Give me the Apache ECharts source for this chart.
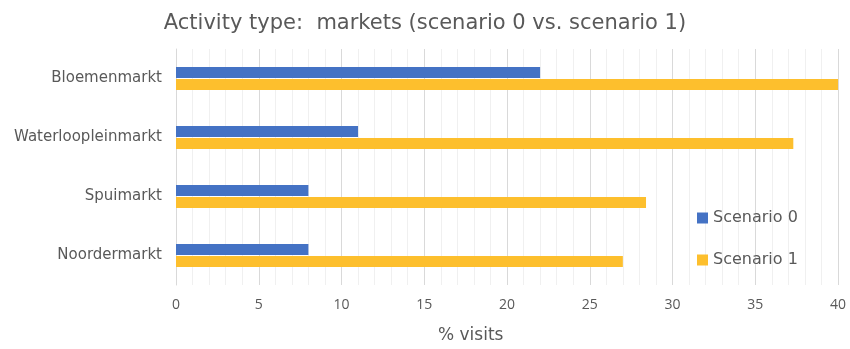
<!DOCTYPE html>
<html>
<head>
<meta charset="utf-8">
<script src="https://cdn.jsdelivr.net/npm/echarts@6/dist/echarts.min.js"></script>
<style>
  html, body { margin: 0; padding: 0; background: #fff; }
  #chart { width: 850px; height: 349px; }
</style>
</head>
<body>
<div id="chart"></div>
<script>
// Markets and their share of visits (%) under each scenario
const markets = ['Bloemenmarkt', 'Waterloopleinmarkt', 'Spuimarkt', 'Noordermarkt'];
const scenario0 = [22, 11, 8, 8];
const scenario1 = [40, 37.3, 28.4, 27];
const seriesNames = ['Scenario 0', 'Scenario 1'];

const FONT = '"Century Gothic", "DejaVu Sans", sans-serif';
const TEXT = '#595959';

const chart = echarts.init(document.getElementById('chart'));
chart.setOption({
  animation: false,
  title: {
    text: 'Activity type:  markets (scenario 0 vs. scenario 1)',
    left: 'center',
    top: 8,
    textStyle: { fontFamily: FONT, fontSize: 21, fontWeight: 'normal', color: TEXT }
  },
  legend: {
    orient: 'vertical',
    left: 692,
    top: 205,
    itemGap: 26,
    itemWidth: 11,
    itemHeight: 11,
    icon: 'rect',
    textStyle: { fontFamily: FONT, fontSize: 16, color: TEXT },
    data: seriesNames
  },
  // x-axis title under the chart body
  graphic: [{
    type: 'text',
    left: 438,
    top: 327,
    style: { text: '% visits', fontFamily: FONT, fontSize: 17, fill: TEXT }
  }],
  grid: { left: 176, right: 12, top: 49, bottom: 64 },
  xAxis: {
    type: 'value',
    min: 0,
    max: 40,
    interval: 5,
    axisLine: { show: false },
    axisTick: { show: false },
    axisLabel: { fontFamily: '"Liberation Sans Narrow", "Open Sans", sans-serif', fontSize: 14, color: TEXT, margin: 13 },
    splitLine: { show: true, lineStyle: { color: '#d9d9d9', width: 1 } },
    minorTick: { show: false, splitNumber: 5 },
    minorSplitLine: { show: true, lineStyle: { color: '#f0f0f0', width: 1 } }
  },
  yAxis: {
    type: 'category',
    inverse: true,
    data: markets,
    axisLine: { show: true, lineStyle: { color: '#d9d9d9' } },
    axisTick: { show: false },
    axisLabel: { fontFamily: FONT, fontSize: 15, color: TEXT, margin: 14 }
  },
  series: [
    {
      name: seriesNames[0],
      type: 'bar',
      data: scenario0,
      barWidth: 11,
      barGap: '9%',
      itemStyle: { color: '#4472c4' }
    },
    {
      name: seriesNames[1],
      type: 'bar',
      data: scenario1,
      barWidth: 11,
      itemStyle: { color: '#fdbf2d' }
    }
  ]
});
</script>
</body>
</html>
